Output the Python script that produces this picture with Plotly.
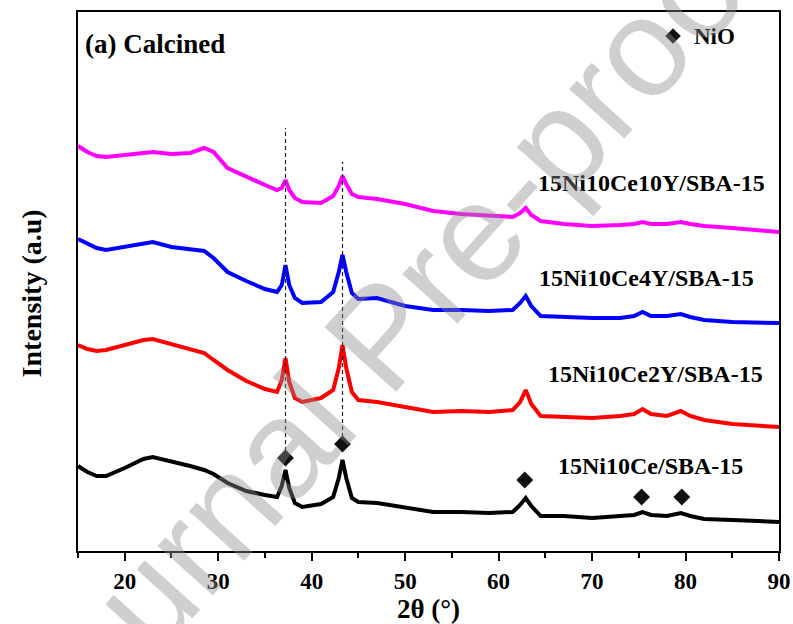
import plotly.graph_objects as go

# 2-theta sampling positions (degrees)
two_theta = [15, 16, 17, 18, 20, 22, 23, 25, 27, 28.5,
             29.5, 31, 33, 35, 36.3, 36.8, 37.2, 37.6, 38.2, 39,
             41, 42.3, 42.9, 43.3, 43.7, 44.3, 45, 47, 50, 53,
             56, 59, 61.5, 62.3, 62.9, 63.5, 64.5, 67, 70, 73,
             74.5, 75.4, 76.3, 78, 79.5, 80.5, 82, 85, 88, 90]

# Stacked intensities (a.u.), one pattern per catalyst
ni_ce_10y = [405, 399, 395, 394, 396, 398, 399, 397, 398, 403,
             399, 383, 374, 366, 361, 363, 371, 361, 353, 349,
             348, 355, 365, 375, 367, 357, 354, 352, 347, 340,
             337, 335, 334, 338, 343, 336, 330, 327, 325, 326,
             327, 329, 327, 327, 329, 327, 325, 323, 321, 319]
ni_ce_4y = [312, 307, 303, 301, 304, 307, 309, 304, 302, 300,
            293, 279, 270, 262, 259, 266, 286, 266, 253, 248,
            249, 259, 279, 296, 279, 258, 252, 253, 245, 241,
            241, 240, 241, 248, 255, 245, 235, 234, 233, 233,
            235, 239, 235, 235, 237, 234, 231, 229, 228, 228]
ni_ce_2y = [206, 202, 200, 201, 206, 211, 212, 207, 202, 198,
            191, 181, 170, 162, 159, 171, 193, 169, 153, 149,
            153, 161, 183, 206, 183, 159, 151, 149, 144, 139,
            140, 139, 141, 149, 161, 147, 135, 134, 133, 135,
            137, 142, 137, 135, 140, 135, 131, 127, 125, 124]
ni_ce = [85, 79, 75, 75, 83, 92, 94, 90, 85, 81,
         77, 68, 60, 56, 54, 65, 81, 63, 48, 44,
         47, 54, 73, 91, 73, 53, 49, 48, 43, 39,
         39, 38, 39, 46, 53, 45, 35, 35, 33, 35,
         36, 39, 36, 35, 38, 35, 32, 31, 30, 29]

sample_names = ["15Ni10Ce10Y/SBA-15", "15Ni10Ce4Y/SBA-15",
                "15Ni10Ce2Y/SBA-15", "15Ni10Ce/SBA-15"]
sample_colors = ["#FF00FF", "#0000FF", "#FF0000", "#000000"]
sample_data = [ni_ce_10y, ni_ce_4y, ni_ce_2y, ni_ce]
label_x = [76.4, 75.8, 76.8, 76.2]
label_y = [368, 273, 177, 85]

# NiO reflections: positions, marker heights and guide-line tops
nio_peaks = [37.2, 43.3, 62.8, 75.3, 79.6]
nio_marks = [93, 107, 71, 54, 54]
guide_tops = [423, 389]

serif = "Liberation Serif"
fig = go.Figure()

for name, color, ys in zip(sample_names, sample_colors, sample_data):
    fig.add_trace(go.Scatter(x=two_theta, y=ys, mode="lines", name=name,
                             line=dict(color=color, width=4),
                             showlegend=False))

# dashed guides through the two strongest NiO reflections
for xp, y0, y1 in zip(nio_peaks[:2], nio_marks[:2], guide_tops):
    fig.add_trace(go.Scatter(x=[xp, xp], y=[y0, y1], mode="lines",
                             line=dict(color="#222222", width=1.2, dash="4px,3px"),
                             showlegend=False, hoverinfo="skip"))

fig.add_trace(go.Scatter(x=nio_peaks, y=nio_marks, mode="markers", name="NiO",
                         marker=dict(symbol="diamond", size=13, color="#111111"),
                         showlegend=False))

# key symbol for NiO
fig.add_trace(go.Scatter(x=[78.66], y=[515], mode="markers",
                         marker=dict(symbol="diamond", size=12, color="#111111"),
                         showlegend=False, hoverinfo="skip"))

for name, lx, ly in zip(sample_names, label_x, label_y):
    fig.add_annotation(x=lx, y=ly, text=name, showarrow=False,
                       xanchor="center", yanchor="middle",
                       font=dict(family=serif, size=24, color="black", weight="bold"))

fig.add_annotation(x=0.007, y=0.94, xref="paper", yref="paper",
                   text="(a) Calcined", showarrow=False,
                   xanchor="left", yanchor="middle",
                   font=dict(family=serif, size=27, color="black", weight="bold"))
fig.add_annotation(x=0.876, y=0.954, xref="paper", yref="paper",
                   text="NiO", showarrow=False,
                   xanchor="left", yanchor="middle",
                   font=dict(family=serif, size=23, color="black", weight="bold"))

# y-axis title
fig.add_annotation(x=-0.067, y=0.478, xref="paper", yref="paper",
                   text="Intensity (a.u)", showarrow=False, textangle=-90,
                   xanchor="center", yanchor="middle",
                   font=dict(family=serif, size=28, color="black", weight="bold"))

# journal watermark
fig.add_annotation(x=0.433, y=0.40, xref="paper", yref="paper",
                   text="Journal Pre-proof", showarrow=False, textangle=-48,
                   xanchor="center", yanchor="middle",
                   font=dict(family="Liberation Sans", size=140,
                             color="rgba(140,140,140,0.42)"))

fig.update_layout(
    width=793, height=624,
    margin=dict(l=78, r=14, t=12, b=73),
    paper_bgcolor="white", plot_bgcolor="white",
    xaxis=dict(range=[15, 90], tick0=10, dtick=10, ticks="outside",
               ticklen=8, tickwidth=1.5, tickcolor="black", automargin=False,
               minor=dict(dtick=5, tick0=15, ticks="outside", ticklen=5,
                          tickwidth=1.5, tickcolor="black"),
               showline=True, linewidth=2, linecolor="black", mirror=True,
               showgrid=False, zeroline=False,
               tickfont=dict(family=serif, size=23, color="black", weight="bold"),
               title=dict(text="2θ (°)", standoff=6,
                          font=dict(family=serif, size=27, color="black", weight="bold"))),
    yaxis=dict(range=[0, 539], showticklabels=False, ticks="", automargin=False,
               showline=True, linewidth=2, linecolor="black", mirror=True,
               showgrid=False, zeroline=False),
)

fig.write_html("out.html")
